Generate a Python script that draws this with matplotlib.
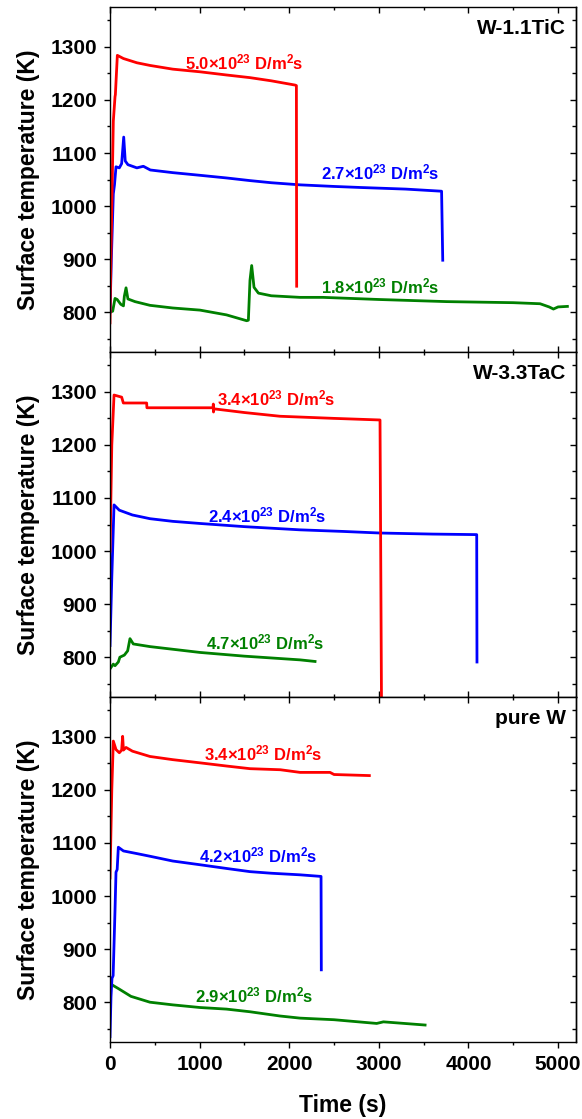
import numpy as np
import matplotlib.pyplot as plt
from matplotlib.ticker import MultipleLocator

plt.rcParams['font.family'] = ['Liberation Sans', 'DejaVu Sans']
plt.rcParams['font.weight'] = 'bold'
plt.rcParams['mathtext.fontset'] = 'custom'
plt.rcParams['mathtext.bf'] = 'Liberation Sans:bold'
plt.rcParams['mathtext.rm'] = 'Liberation Sans:bold'
plt.rcParams['mathtext.default'] = 'bf'

# ---- data (time in s, temperature in K) ----
# W-1.1TiC
tic_red_t = [0, 10, 37, 56, 60, 82, 150, 300, 446, 700, 1004, 1300, 1562, 1800, 2065, 2080, 2083]
tic_red_T = [780, 900, 1160, 1206, 1210, 1284, 1278, 1270, 1265, 1258, 1253, 1247, 1242,
             1236, 1228, 1227, 849]
tic_blue_t = [0, 15, 37, 50, 67, 104, 130, 153, 170, 200, 300, 372, 450, 700, 1004,
              1300, 1562, 1800, 2121, 2500, 2800, 3300, 3700, 3713]
tic_blue_T = [800, 900, 1023, 1040, 1074, 1072, 1080, 1130, 1085, 1078, 1072, 1075, 1068,
              1063, 1058, 1053, 1048, 1044, 1040, 1037, 1035, 1032, 1028, 898]
tic_green_t = [0, 30, 56, 80, 120, 150, 160, 179, 200, 279, 446, 700, 1004, 1300, 1525, 1544,
               1562, 1581, 1607, 1656, 1800, 2121, 2377, 3000, 3757, 4500, 4799, 4900, 4948,
               5000, 5104]
tic_green_T = [800, 802, 826, 824, 815, 812, 830, 846, 825, 820, 813, 808, 804, 795, 784, 785,
               860, 888, 847, 836, 831, 828, 828, 824, 820, 818, 816, 810, 806, 810, 811]

# W-3.3TaC
tac_red_t = [0, 20, 45, 130, 149, 409, 412, 1150, 1153, 1155, 1160, 1500, 1897, 2500, 3013, 3030]
tac_red_T = [1000, 1200, 1294, 1290, 1279, 1279, 1270, 1270, 1277, 1262, 1268, 1261, 1254,
             1250, 1247, 700]
tac_blue_t = [0, 20, 45, 104, 250, 446, 700, 1004, 1500, 2121, 2600, 3013, 3600, 4092, 4095]
tac_blue_T = [822, 950, 1087, 1077, 1068, 1061, 1056, 1052, 1046, 1040, 1037, 1034, 1032,
              1031, 791]
tac_green_t = [0, 37, 56, 93, 110, 160, 197, 223, 260, 446, 700, 1004, 1500, 2121, 2288]
tac_green_T = [778, 787, 784, 791, 800, 804, 812, 835, 825, 820, 815, 809, 802, 795, 792]

# pure W
w_red_t = [0, 20, 37, 67, 104, 130, 141, 150, 179, 250, 446, 700, 1004, 1300, 1562, 1900,
           2121, 2455, 2500, 2894]
w_red_T = [1034, 1200, 1292, 1276, 1270, 1275, 1301, 1275, 1280, 1273, 1263, 1257, 1251,
           1245, 1240, 1238, 1233, 1233, 1229, 1227]
w_blue_t = [0, 11, 22, 35, 56, 67, 80, 93, 150, 300, 446, 700, 1004, 1300, 1562, 1800,
            2121, 2355, 2358]
w_blue_T = [735, 810, 845, 850, 974, 1045, 1050, 1092, 1085, 1080, 1075, 1066, 1059, 1052,
            1046, 1043, 1040, 1037, 861]
w_green_t = [0, 20, 100, 234, 446, 700, 1004, 1300, 1562, 1897, 2121, 2500, 2976, 3051, 3516]
w_green_T = [828, 833, 825, 811, 800, 795, 790, 787, 782, 774, 770, 767, 760, 763, 757]

panel_names = ['W-1.1TiC', 'W-3.3TaC', 'pure W']
flux_labels = [['5.0', '2.7', '1.8'], ['3.4', '2.4', '4.7'], ['3.4', '4.2', '2.9']]
label_pos = [[(1500, 1270), (3021, 1063), (3013, 848)],
             [(1858, 1288), (1752, 1068), (1732, 827)],
             [(1708, 1268), (1652, 1076), (1610, 812)]]

series = [
    [(tic_red_t, tic_red_T), (tic_blue_t, tic_blue_T), (tic_green_t, tic_green_T)],
    [(tac_red_t, tac_red_T), (tac_blue_t, tac_blue_T), (tac_green_t, tac_green_T)],
    [(w_red_t, w_red_T), (w_blue_t, w_blue_T), (w_green_t, w_green_T)],
]
colors = ['#ff0000', '#0000ff', '#008000']

fig, axes = plt.subplots(3, 1, figsize=(5.82, 11.19), dpi=100, sharex=True)
fig.subplots_adjust(left=0.189, right=0.9897, bottom=0.0688, top=0.9937, hspace=0)

for i, ax in enumerate(axes):
    for (t, T), c in reversed(list(zip(series[i], colors))):
        ax.plot(t, T, color=c, lw=2.0)
    for (lx, ly), val, c in zip(label_pos[i], flux_labels[i], colors):
        ax.text(lx, ly, val + '×10$^{23}$ D/m$^2$s', color=c, fontsize=12,
                fontweight='bold', ha='center', va='center')
    ax.text(0.979, 0.939, panel_names[i], transform=ax.transAxes, ha='right',
            va='center', fontsize=15, fontweight='bold')

    ax.set_xlim(0, 5200)
    ax.set_ylim(725, 1375)
    ax.xaxis.set_major_locator(MultipleLocator(1000))
    ax.xaxis.set_minor_locator(MultipleLocator(500))
    ax.yaxis.set_major_locator(MultipleLocator(100))
    ax.yaxis.set_minor_locator(MultipleLocator(50))
    ax.set_ylabel('Surface temperature (K)', fontsize=16.5, fontweight='bold', labelpad=8)

    for s in ax.spines.values():
        s.set_linewidth(1.0)

    # left ticks out, right ticks in
    ax.tick_params(axis='y', which='major', direction='out', length=4, width=1,
                   labelsize=15, pad=5, right=False)
    ax.tick_params(axis='y', which='minor', direction='out', length=2.3, width=1, right=False)
    ry = ax.secondary_yaxis('right')
    ry.yaxis.set_major_locator(MultipleLocator(100))
    ry.yaxis.set_minor_locator(MultipleLocator(50))
    ry.tick_params(axis='y', which='major', direction='in', length=4, width=1, labelright=False)
    ry.tick_params(axis='y', which='minor', direction='in', length=3, width=1)
    ry.spines['right'].set_linewidth(1.0)

    if i < 2:
        ax.tick_params(axis='x', which='major', direction='in', length=4.5, width=1,
                       top=True, bottom=True, labelbottom=False)
        ax.tick_params(axis='x', which='minor', direction='in', length=2.5, width=1,
                       top=True, bottom=True)
    else:
        ax.tick_params(axis='x', which='major', direction='out', length=4.5, width=1,
                       labelsize=15, pad=5, top=False)
        ax.tick_params(axis='x', which='minor', direction='out', length=2.5, width=1, top=False)
        tx = ax.secondary_xaxis('top')
        tx.xaxis.set_major_locator(MultipleLocator(1000))
        tx.xaxis.set_minor_locator(MultipleLocator(500))
        tx.tick_params(axis='x', which='major', direction='in', length=4.5, width=1, labeltop=False)
        tx.tick_params(axis='x', which='minor', direction='in', length=2.5, width=1)
        ax.set_xlabel('Time (s)', fontsize=16.5, fontweight='bold', labelpad=14)

fig.savefig('out.png', dpi=100)
